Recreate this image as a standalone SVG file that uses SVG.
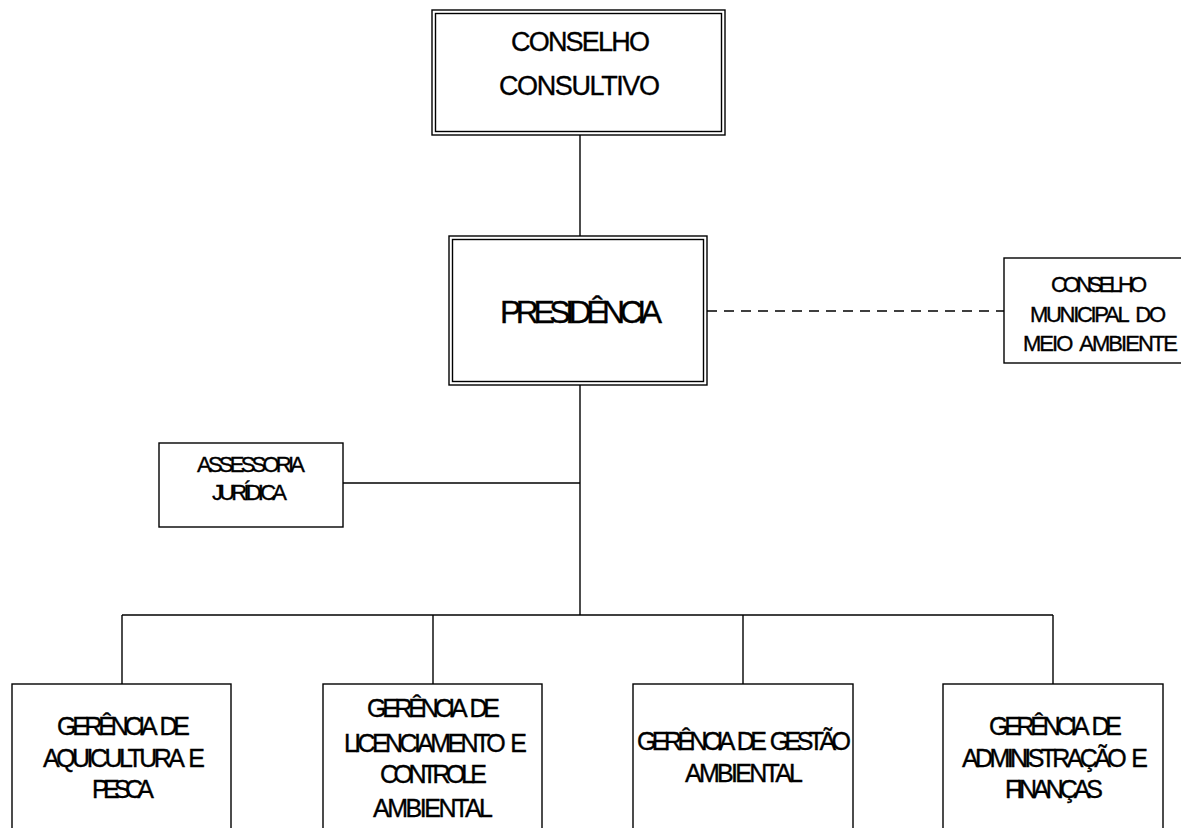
<svg xmlns="http://www.w3.org/2000/svg" width="1181" height="828" viewBox="0 0 1181 828">
  <style>
    .box { fill: #ffffff; stroke: #000000; stroke-width: 1.4; }
    .edge { fill: none; stroke: #000000; stroke-width: 1.4; }
    .dashed { stroke-dasharray: 10 7; }
    text { font-family: "Liberation Sans", Arial, sans-serif; fill: #000000; stroke: #000000; stroke-width: 0.35; text-anchor: middle; word-spacing: 5px; }
    .t-big { font-size: 27px; }
    .t-pres { font-size: 32px; }
    .t-sm { font-size: 22px; }
    .t-mid { font-size: 25px; }
  </style>
  <rect width="1181" height="828" fill="#ffffff"/>

  <g id="connectors">
    <line class="edge" x1="580" y1="134" x2="580" y2="237"/>
    <line class="edge dashed" x1="707" y1="311" x2="1004" y2="311"/>
    <line class="edge" x1="580" y1="385" x2="580" y2="615"/>
    <line class="edge" x1="343" y1="483" x2="580" y2="483"/>
    <line class="edge" x1="122" y1="615" x2="1053" y2="615"/>
    <line class="edge" x1="122" y1="615" x2="122" y2="684"/>
    <line class="edge" x1="433" y1="615" x2="433" y2="684"/>
    <line class="edge" x1="743" y1="615" x2="743" y2="684"/>
    <line class="edge" x1="1053" y1="615" x2="1053" y2="684"/>
  </g>

  <g id="conselho-consultivo">
    <rect class="box" x="432" y="10" width="293" height="125"/>
    <rect class="box" x="435.5" y="13.5" width="286" height="118"/>
    <text class="t-big" x="580.5" y="51" textLength="139" lengthAdjust="spacing">CONSELHO</text>
    <text class="t-big" x="579.5" y="95" textLength="161" lengthAdjust="spacing">CONSULTIVO</text>
  </g>

  <g id="presidencia">
    <rect class="box" x="449" y="236" width="258" height="149"/>
    <rect class="box" x="452.5" y="239.5" width="251" height="142"/>
    <text class="t-pres" x="581" y="323" textLength="162" lengthAdjust="spacing">PRESIDÊNCIA</text>
  </g>

  <g id="conselho-municipal">
    <rect class="box" x="1004" y="258" width="190" height="105"/>
    <text class="t-sm" x="1099" y="292" textLength="96" lengthAdjust="spacing">CONSELHO</text>
    <text class="t-sm" x="1098" y="322" textLength="136" lengthAdjust="spacing">MUNICIPAL DO</text>
    <text class="t-sm" x="1100.5" y="351" textLength="155" lengthAdjust="spacing">MEIO AMBIENTE</text>
  </g>

  <g id="assessoria-juridica">
    <rect class="box" x="159" y="443" width="184" height="84"/>
    <text class="t-sm" x="251" y="472" textLength="108" lengthAdjust="spacing">ASSESSORIA</text>
    <text class="t-sm" x="249.5" y="500" textLength="75" lengthAdjust="spacing">JURÍDICA</text>
  </g>

  <g id="gerencia-aquicultura">
    <rect class="box" x="12" y="684" width="219" height="160"/>
    <text class="t-mid" x="123.5" y="735" textLength="133" lengthAdjust="spacing">GERÊNCIA DE</text>
    <text class="t-mid" x="124" y="767" textLength="162" lengthAdjust="spacing">AQUICULTURA E</text>
    <text class="t-mid" x="123" y="798" textLength="62" lengthAdjust="spacing">PESCA</text>
  </g>

  <g id="gerencia-licenciamento">
    <rect class="box" x="323" y="684" width="219" height="160"/>
    <text class="t-mid" x="433.5" y="717" textLength="133" lengthAdjust="spacing">GERÊNCIA DE</text>
    <text class="t-mid" x="435.5" y="752" textLength="183" lengthAdjust="spacing">LICENCIAMENTO E</text>
    <text class="t-mid" x="433.5" y="783" textLength="107" lengthAdjust="spacing">CONTROLE</text>
    <text class="t-mid" x="433" y="817" textLength="120" lengthAdjust="spacing">AMBIENTAL</text>
  </g>

  <g id="gerencia-gestao">
    <rect class="box" x="633" y="684" width="220" height="160"/>
    <text class="t-mid" x="744" y="750" textLength="214" lengthAdjust="spacing">GERÊNCIA DE GESTÃO</text>
    <text class="t-mid" x="744" y="782" textLength="118" lengthAdjust="spacing">AMBIENTAL</text>
  </g>

  <g id="gerencia-administracao">
    <rect class="box" x="943" y="684" width="220" height="160"/>
    <text class="t-mid" x="1055.5" y="735" textLength="133" lengthAdjust="spacing">GERÊNCIA DE</text>
    <text class="t-mid" x="1055" y="767" textLength="186" lengthAdjust="spacing">ADMINISTRAÇÃO E</text>
    <text class="t-mid" x="1054" y="798" textLength="98" lengthAdjust="spacing">FINANÇAS</text>
  </g>
</svg>
